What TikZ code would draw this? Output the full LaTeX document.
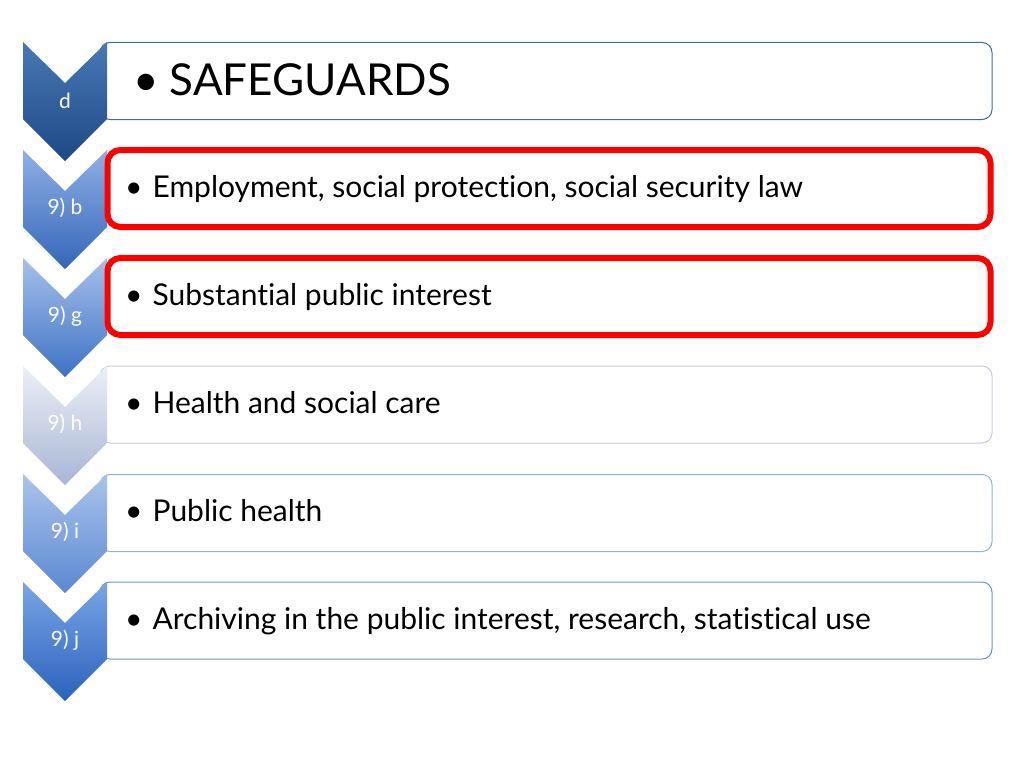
\documentclass[tikz,border=0pt]{standalone}
\usepackage{fontspec}
\setmainfont[Ligatures=NoCommon]{Lato}
\tikzset{
  box/.style={rectangle, rounded corners=10pt, fill=white, line width=1pt,
    minimum width=892pt, minimum height=77pt, inner sep=0pt},
  mark box/.style={rectangle, rounded corners=13pt, draw=red, line width=6pt,
    minimum width=883pt, minimum height=77pt, inner sep=0pt},
  item/.style={anchor=base west, inner sep=0pt, font=\fontsize{30}{36}\selectfont},
  tag/.style={text=white, inner sep=0pt, font=\fontsize{21}{25}\selectfont},
  chevron/.pic={\path[pic actions] (-42,0) -- (0,41) -- (42,0) -- (42,77) -- (0,119) -- (-42,77) -- cycle;}
}
\definecolor{chevAtop}{HTML}{4A78B5}\definecolor{chevAbot}{HTML}{1D4A85}
\definecolor{chevBtop}{HTML}{8FB0E6}\definecolor{chevBbot}{HTML}{3466B8}
\definecolor{chevCtop}{HTML}{A6C1EC}\definecolor{chevCbot}{HTML}{3E72C4}
\definecolor{chevDtop}{HTML}{ECEFF6}\definecolor{chevDbot}{HTML}{A8B6D5}
\definecolor{chevEtop}{HTML}{ABC4EC}\definecolor{chevEbot}{HTML}{5A88D2}
\definecolor{chevFtop}{HTML}{7AA5E6}\definecolor{chevFbot}{HTML}{2A62BE}
\begin{document}
\begin{tikzpicture}[x=1pt, y=-1pt]
\useasboundingbox (0,0) rectangle (1024,768);
\node[box, draw={rgb,255:red,65;green,105;blue,156}] (box0) at (546,81) {};
\node[box, draw={rgb,255:red,197;green,203;blue,224}] (box3) at (546,404.5) {};
\node[box, draw={rgb,255:red,148;green,176;blue,224}] (box4) at (546,513) {};
\node[box, draw={rgb,255:red,107;green,147;blue,214}] (box5) at (546,620.5) {};
\pic[top color=chevAtop, bottom color=chevAbot] (chev0) at (65,42) {chevron};
\pic[top color=chevBtop, bottom color=chevBbot] (chev1) at (65,150) {chevron};
\pic[top color=chevCtop, bottom color=chevCbot] (chev2) at (65,258) {chevron};
\pic[top color=chevDtop, bottom color=chevDbot] (chev3) at (65,366) {chevron};
\pic[top color=chevEtop, bottom color=chevEbot] (chev4) at (65,474) {chevron};
\pic[top color=chevFtop, bottom color=chevFbot] (chev5) at (65,582) {chevron};
\node[mark box] (box1) at (549,188.5) {};
\node[mark box] (box2) at (549,296.5) {};
\node[tag] (tag0) at (65,101) {d};
\node[tag] (tag1) at (65,208) {9) b};
\node[tag] (tag2) at (65,316) {9) g};
\node[tag] (tag3) at (65,424) {9) h};
\node[tag] (tag4) at (65,532) {9) i};
\node[tag] (tag5) at (65,640) {9) j};
\node[item, font=\fontsize{44}{52}\selectfont] (item0) at (133,95) {\textbullet\hspace{11pt}SAFEGUARDS};
\node[item] (item1) at (125,197) {\textbullet\hspace{10pt}Employment, social protection, social security law};
\node[item] (item2) at (125,305) {\textbullet\hspace{10pt}Substantial public interest};
\node[item] (item3) at (125,413) {\textbullet\hspace{10pt}Health and social care};
\node[item] (item4) at (125,521) {\textbullet\hspace{10pt}Public health};
\node[item] (item5) at (125,629) {\textbullet\hspace{10pt}Archiving in the public interest, research, statistical use};
\end{tikzpicture}
\end{document}
